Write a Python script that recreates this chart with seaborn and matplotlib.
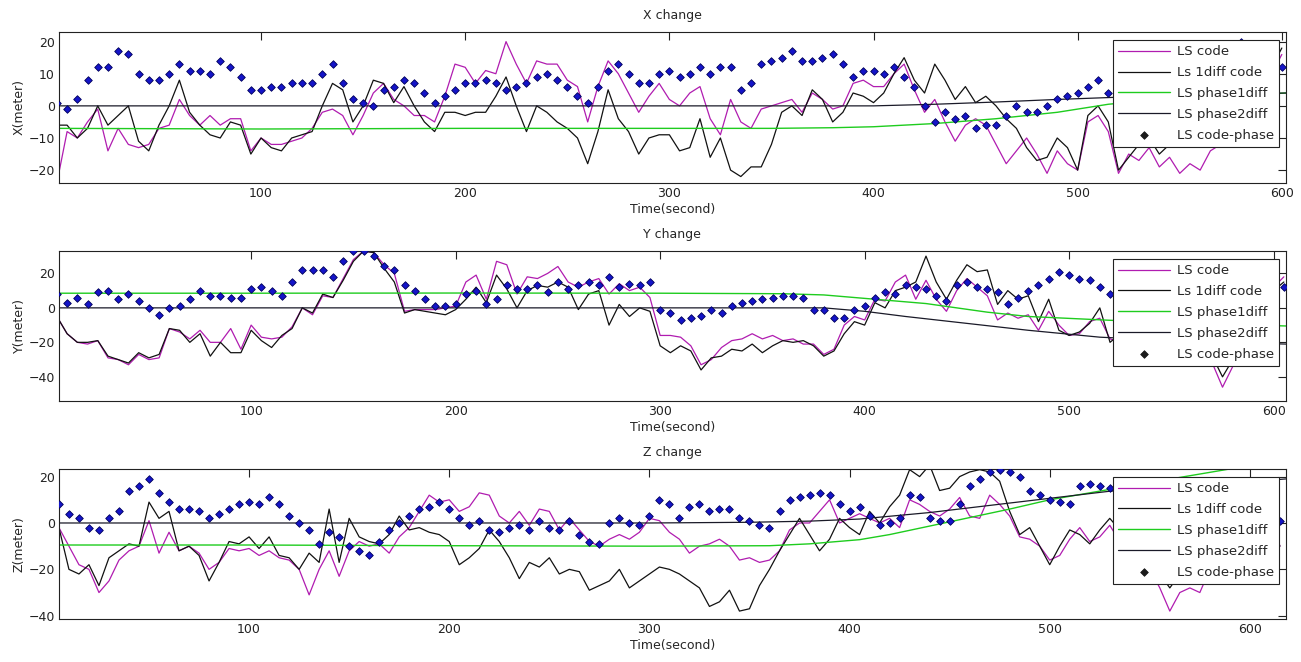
import numpy as np
import pandas as pd
import matplotlib
matplotlib.use('Agg')
import matplotlib.pyplot as plt
import seaborn as sns

# ---------------- data (5 s sampling) ----------------
t_x = list(range(0, 601, 5))
x_code = [-24, -8, -10, -5, -1, -14, -7, -12, -13, -12,
          -7, -6, 2, -3, -6, -3, -6, -4, -4, -14,
          -10, -12, -12, -11, -10, -7, -2, -1, -3, -9,
          -3, 4, 7, 2, 0, -3, -3, -5, 3, 13,
          12, 7, 11, 10, 20, 13, 7, 14, 13, 13,
          8, 6, -5, 6, 14, 10, 4, -2, 3, 7,
          2, 0, 4, 6, -4, -9, 2, -5, -7, -1,
          0, 1, 2, -2, 4, 2, -1, 0, 7, 8,
          6, 6, 10, 13, 5, -2, 2, -5, -11, -6,
          -4, -6, -12, -18, -14, -10, -15, -21, -14, -18,
          -20, -5, -3, -8, -21, -15, -17, -13, -19, -16,
          -21, -18, -20, -14, -12, -10, -8, -5, 0, 10,
          16]
x_1diff = [-6, -6, -10, -7, 0, -6, -3, 0, -11, -14,
           -6, 0, 8, -2, -6, -9, -10, -5, -6, -15,
           -10, -13, -14, -10, -9, -8, 0, 7, 5, -5,
           0, 8, 7, 1, 6, 0, -5, -8, -2, -2,
           -3, -2, -2, 3, 9, 0, -8, 0, -2, -5,
           -7, -10, -18, -8, 5, -4, -8, -15, -10, -9,
           -9, -14, -13, -4, -16, -10, -20, -22, -19, -19,
           -12, -2, 0, -3, 5, 2, -5, -2, 4, 3,
           1, 4, 10, 15, 8, 4, 13, 8, 2, 6,
           1, 3, 0, -4, -7, -13, -17, -16, -10, -13,
           -20, -3, 0, -5, -20, -16, -12, -10, -15, -12,
           -10, -12, -8, -5, -3, 0, 3, 5, 8, 12,
           18]
x_cp = [1, -1, 2, 8, 12, 12, 17, 16, 10, 8,
        8, 10, 13, 11, 11, 10, 14, 12, 9, 5,
        5, 6, 6, 7, 7, 7, 10, 13, 7, 2,
        1, 0, 5, 6, 8, 7, 4, 1, 3, 5,
        7, 7, 8, 7, 5, 6, 7, 9, 10, 8,
        6, 3, 1, 6, 11, 13, 10, 7, 7, 10,
        11, 9, 10, 12, 10, 12, 12, 5, 7, 13,
        14, 15, 17, 14, 14, 15, 16, 13, 9, 11,
        11, 10, 12, 9, 6, 0, -5, -2, -4, -3,
        -7, -6, -6, -3, 0, -2, -2, 0, 2, 3,
        4, 6, 8, 4, 5, 7, 6, 9, 8, 11,
        10, 13, 12, 15, 14, 18, 20, 17, 16, 13,
        12]
t_x_ph1 = [0, 100, 200, 300, 350, 380, 400, 430, 460, 490, 515, 540, 570, 602]
x_ph1 = [-7, -7.2, -7, -7, -7, -6.8, -6.5, -5.5, -4, -2, 0.5, 2, 3, 4]
t_x_ph2 = [0, 100, 200, 300, 400, 430, 460, 490, 520, 560, 602]
x_ph2 = [0, 0, 0, 0, 0, 0.5, 1.2, 2, 2.7, 3.5, 4]

t_y = list(range(5, 606, 5))
y_code = [-5, -15, -20, -21, -19, -29, -30, -33, -27, -30,
          -29, -12, -14, -18, -13, -20, -20, -12, -24, -10,
          -17, -18, -17, -11, 0, -4, 7, 6, 17, 28,
          33, 32, 25, 20, -2, -1, -1, -1, 0, 1,
          15, 19, 5, 27, 25, 8, 18, 17, 20, 24,
          15, 12, 15, 17, 8, 14, 10, 12, 6, -16,
          -16, -17, -22, -33, -30, -23, -19, -18, -15, -18,
          -16, -19, -18, -21, -21, -27, -24, -10, -5, -7,
          5, 4, 15, 19, 5, 16, 5, -2, 10, 17,
          12, 7, -7, -3, -6, -4, -13, -2, -10, -16,
          -15, -8, -6, -18, -20, -12, -15, -10, -12, -8,
          -14, -20, -25, -32, -46, -34, -20, -10, 0, 12,
          18]
y_1diff = [-5, -15, -20, -20, -19, -28, -30, -32, -26, -29,
           -27, -12, -13, -20, -15, -28, -20, -26, -26, -13,
           -19, -23, -16, -12, 0, -3, 8, 6, 16, 27,
           33, 32, 23, 15, -3, -1, -2, -3, -4, -1,
           5, 12, 3, 19, 11, 0, 10, 13, 12, 15,
           12, -1, 8, 10, -10, 2, -5, 0, -2, -22,
           -26, -22, -25, -36, -29, -28, -24, -25, -21, -26,
           -22, -19, -20, -19, -22, -28, -25, -15, -8, -10,
           3, 0, 10, 12, 15, 30, 15, 5, 16, 25,
           21, 22, 2, 10, 5, 7, -8, 5, -13, -16,
           -14, -9, 0, -20, -15, -10, -12, -8, -10, -6,
           -12, -18, -22, -28, -40, -30, -18, -8, 2, 10,
           15]
y_cp = [8, 3, 6, 2, 9, 10, 5, 8, 4, 0,
        -4, 0, 1, 5, 10, 7, 7, 6, 6, 11,
        12, 10, 7, 15, 22, 22, 22, 18, 27, 33,
        33, 30, 24, 22, 13, 10, 5, 1, 1, 2,
        8, 10, 2, 5, 13, 11, 11, 13, 9, 15,
        11, 13, 15, 13, 18, 12, 14, 13, 15, -1,
        -3, -7, -6, -5, -1, -3, 1, 3, 4, 5,
        6, 7, 7, 6, -1, -1, -6, -6, -1, 1,
        6, 9, 8, 13, 12, 11, 7, 4, 13, 15,
        12, 11, 9, 2, 6, 10, 13, 17, 21, 19,
        17, 16, 12, 8, 11, 12, 15, 14, 15, 12,
        13, 10, 11, 9, 8, 9, 8, 10, 11, 11,
        12]
t_y_ph1 = [5, 100, 200, 300, 360, 380, 400, 430, 460, 480, 520, 560, 606]
y_ph1 = [8.5, 8.5, 8.6, 8.5, 8.2, 7.5, 5.5, 2.5, -2.5, -5, -7.2, -9, -10.5]
t_y_ph2 = [5, 100, 200, 300, 380, 400, 420, 450, 480, 515, 560, 606]
y_ph2 = [0, 0, 0, 0, 0, -2, -5, -9, -13, -17, -19.5, -21]

t_z = list(range(5, 616, 5))
z_code = [-2, -10, -18, -20, -30, -25, -16, -12, -10, 1,
          -13, -4, -12, -10, -13, -20, -17, -11, -12, -11,
          -14, -12, -15, -16, -20, -31, -20, -12, -23, -12,
          -8, -10, -9, -13, -6, -2, 5, 12, 9, 10,
          5, 7, 13, 12, 3, 0, 5, -1, 6, 5,
          -3, 2, -3, -8, -10, -7, -5, -7, -4, 2,
          1, -4, -7, -13, -10, -9, -7, -10, -16, -15,
          -17, -16, -12, -3, 0, 0, 5, 10, 0, 2,
          4, 2, 0, 2, -2, 10, 8, 5, 3, 6,
          11, 3, 2, 12, 8, 3, -6, -7, -10, -16,
          -14, -7, -2, -8, -6, -1, -8, -12, -15, -20,
          -28, -38, -30, -28, -30, -20, -12, -5, 0, 5,
          8, 5, -10]
z_1diff = [-2, -20, -22, -18, -27, -15, -12, -9, -10, 9,
           2, 5, -12, -10, -14, -25, -17, -8, -9, -6,
           -11, -6, -14, -15, -20, -13, -17, 6, -17, 2,
           -6, -8, -9, -5, 3, -3, -2, -4, -5, -8,
           -18, -15, -11, -3, -8, -15, -24, -17, -19, -15,
           -22, -20, -21, -29, -27, -25, -20, -28, -25, -22,
           -19, -20, -22, -25, -28, -36, -34, -29, -38, -37,
           -27, -20, -12, -5, 2, -5, -12, -7, 2, -2,
           -5, 5, 0, 7, 12, 23, 20, 25, 14, 15,
           20, 22, 23, 22, 18, 5, -5, -2, -10, -18,
           -10, -3, -5, -9, -3, 2, -3, -8, -12, -15,
           -22, -28, -22, -20, -15, -12, -8, -4, 0, 3,
           5, 0, -10]
z_cp = [8, 4, 2, -2, -3, 2, 5, 14, 16, 19,
        13, 9, 6, 6, 5, 2, 4, 6, 8, 9,
        8, 11, 8, 3, 0, -3, -9, -4, -6, -10,
        -12, -14, -8, -3, 0, 3, 6, 7, 9, 6,
        2, -1, 1, -3, -4, -2, -1, -3, 1, -2,
        -3, 1, -5, -8, -9, 0, 2, 0, -1, 3,
        10, 8, 2, 7, 8, 5, 6, 6, 2, 1,
        -1, -2, 5, 10, 11, 12, 13, 12, 8, 5,
        7, 3, -1, 0, 2, 12, 11, 2, 1, 1,
        8, 16, 19, 22, 23, 22, 20, 14, 12, 10,
        9, 8, 16, 17, 16, 15, 14, 13, 12, 11,
        10, 9, 8, 7, 6, 5, 5, 4, 4, 3,
        3, 2, 1]
t_z_ph1 = [5, 100, 200, 300, 360, 380, 405, 420, 450, 480, 500, 540, 590, 618]
z_ph1 = [-9.5, -9.5, -9.8, -10, -9.8, -9, -7.2, -5, 0.5, 6, 10, 16, 23.3, 26]
t_z_ph2 = [5, 100, 200, 300, 350, 380, 405, 440, 480, 530, 570, 618]
z_ph2 = [0, 0, 0, 0, 0.3, 0.8, 1.7, 4.5, 8.6, 13.7, 16, 19]

# ---------------- figure ----------------
sns.set_theme(style='white')
plt.rcParams['font.family'] = ['DejaVu Sans']
plt.rcParams['font.size'] = 9

fig = plt.figure(figsize=(13.01, 6.62), dpi=100)

panels = [
    dict(title='X change', ylabel='X(meter)', t=t_x, code=x_code, d1=x_1diff, cp=x_cp,
         t1=t_x_ph1, p1=x_ph1, t2=t_x_ph2, p2=x_ph2,
         xlim=(1, 602), ylim=(-24, 23), yticks=[-20, -10, 0, 10, 20],
         rect=[0.0453, 0.7236, 0.9431, 0.2281]),
    dict(title='Y change', ylabel='Y(meter)', t=t_y, code=y_code, d1=y_1diff, cp=y_cp,
         t1=t_y_ph1, p1=y_ph1, t2=t_y_ph2, p2=y_ph2,
         xlim=(6, 606), ylim=(-54, 33), yticks=[-40, -20, 0, 20],
         rect=[0.0453, 0.3943, 0.9431, 0.2266]),
    dict(title='Z change', ylabel='Z(meter)', t=t_z, code=z_code, d1=z_1diff, cp=z_cp,
         t1=t_z_ph1, p1=z_ph1, t2=t_z_ph2, p2=z_ph2,
         xlim=(5, 618), ylim=(-41.4, 23.3), yticks=[-40, -20, 0, 20],
         rect=[0.0453, 0.0650, 0.9431, 0.2266]),
]

for p in panels:
    ax = fig.add_axes(p['rect'])
    sns.lineplot(x=p['t'], y=p['code'], ax=ax, color='#b01cb0', lw=0.9, label='LS code')
    sns.lineplot(x=p['t'], y=p['d1'], ax=ax, color='#111111', lw=0.9, label='Ls 1diff code')
    sns.lineplot(x=p['t1'], y=p['p1'], ax=ax, color='#1ecc1e', lw=1.0, label='LS phase1diff')
    sns.lineplot(x=p['t2'], y=p['p2'], ax=ax, color='#1a1a28', lw=0.9, label='LS phase2diff')
    sns.scatterplot(x=p['t'], y=p['cp'], ax=ax, marker='D', s=15, color='#1414c8',
                    edgecolor='#00005a', linewidth=0.6, zorder=3, label='LS code-phase')

    ax.set_xlim(*p['xlim'])
    ax.set_ylim(*p['ylim'])
    ax.set_xticks([100, 200, 300, 400, 500, 600])
    ax.set_yticks(p['yticks'])
    ax.tick_params(direction='in', top=True, right=True, length=6, width=0.8,
                   labelsize=9, colors='#222222', pad=3)
    for s in ax.spines.values():
        s.set_color('#222222')
        s.set_linewidth(0.8)
    ax.set_title(p['title'], fontsize=9, pad=9)
    ax.set_xlabel('Time(second)', fontsize=9, labelpad=2)
    ax.set_ylabel(p['ylabel'], fontsize=9, labelpad=2)

    leg = ax.legend(loc='upper right', bbox_to_anchor=(0.9943, 0.947), borderaxespad=0,
                    fancybox=False, framealpha=1, edgecolor='#222222', fontsize=9.5,
                    handlelength=3.9, handletextpad=0.5, labelspacing=0.6,
                    borderpad=0.4)
    leg.get_frame().set_linewidth(0.8)
    leg.legend_handles[-1].set_facecolor('k')
    leg.legend_handles[-1].set_edgecolor('k')

fig.savefig('out.png', dpi=100)
